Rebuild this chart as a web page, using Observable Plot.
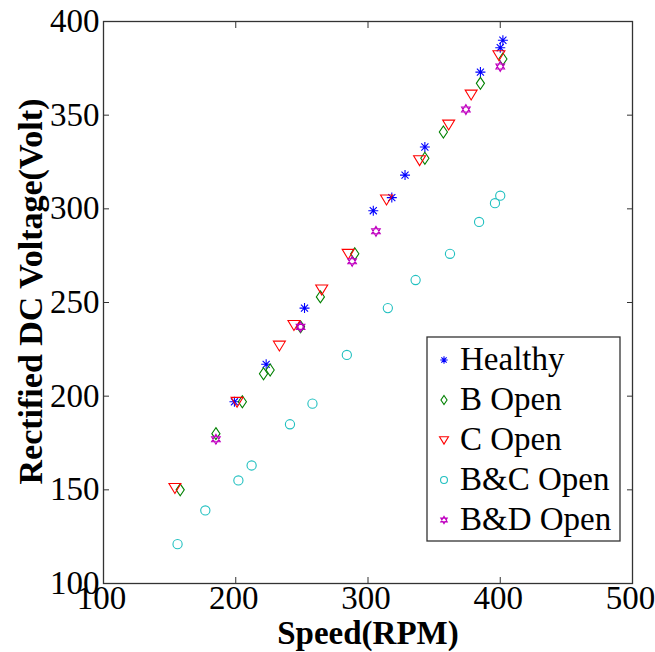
<!DOCTYPE html>
<html><head><meta charset="utf-8">
<script src="https://cdn.jsdelivr.net/npm/d3@7"></script>
<script src="https://cdn.jsdelivr.net/npm/@observablehq/plot@0.6"></script>
<style>body{margin:0;background:#fff}</style>
</head><body><div id="chart"></div>
<script>
const healthyX = [199, 223, 252, 304, 318, 328, 343, 385, 400, 402];
const healthyY = [197, 217, 247, 299, 306, 318, 333, 373, 386, 390];
const bOpenX = [158, 185, 205, 221, 226, 249, 264, 290, 343, 357, 385, 402];
const bOpenY = [150, 180, 197, 212, 214, 237, 253, 276, 327, 341, 367, 380];
const cOpenX = [154, 201, 233, 244, 265, 285, 314, 339, 361, 378, 399];
const cOpenY = [151, 197, 227, 238, 257, 276, 305, 326, 345, 361, 382];
const bcOpenX = [156, 177, 202, 212, 241, 258, 284, 315, 336, 362, 384, 396, 400];
const bcOpenY = [121, 139, 155, 163, 185, 196, 222, 247, 262, 276, 293, 303, 307];
const bdOpenX = [185, 249, 288, 306, 374, 400];
const bdOpenY = [177, 237, 272, 288, 353, 376];

const seriesNames = ["Healthy", "B Open", "C Open", "B&C Open", "B&D Open"];
const seriesColors = ["#0000ff", "#008000", "#ff0000", "#20c0c0", "#c000c0"];
const xTicks = [100, 200, 300, 400, 500];
const yTicks = [100, 150, 200, 250, 300, 350, 400];
const xLabel = "Speed(RPM)";
const yLabel = "Rectified DC Voltage(Volt)";

const FONT = "Liberation Serif";

const rad = (size) => Math.sqrt(size / Math.PI);
const symAsterisk = {draw(c, size) {
  const r = rad(size), d = r * Math.SQRT1_2;
  c.moveTo(-r, 0); c.lineTo(r, 0); c.moveTo(0, -r); c.lineTo(0, r);
  c.moveTo(-d, -d); c.lineTo(d, d); c.moveTo(-d, d); c.lineTo(d, -d);
}};
const symDiamond = {draw(c, size) {
  const r = rad(size);
  c.moveTo(0, -r * 1.25); c.lineTo(r * 0.85, 0); c.lineTo(0, r * 1.25); c.lineTo(-r * 0.85, 0); c.closePath();
}};
const symTriDown = {draw(c, size) {
  const r = rad(size);
  c.moveTo(-r * 1.15, -r * 0.85); c.lineTo(r * 1.15, -r * 0.85); c.lineTo(0, r * 1.05); c.closePath();
}};
const symCircle = {draw(c, size) {
  const r = rad(size);
  c.moveTo(r, 0); c.arc(0, 0, r, 0, 2 * Math.PI);
}};
const symHexagram = {draw(c, size) {
  const r = rad(size);
  for (const base of [-Math.PI / 2, Math.PI / 2]) {
    for (let k = 0; k < 3; k++) {
      const a = base + k * 2 * Math.PI / 3;
      const px = r * Math.cos(a), py = r * Math.sin(a);
      if (k === 0) c.moveTo(px, py); else c.lineTo(px, py);
    }
    c.closePath();
  }
}};
const seriesSymbols = [symAsterisk, symDiamond, symTriDown, symCircle, symHexagram];
const seriesR = [5, 4.8, 5.2, 4.6, 5];

const seriesX = [healthyX, bOpenX, cOpenX, bcOpenX, bdOpenX];
const seriesY = [healthyY, bOpenY, cOpenY, bcOpenY, bdOpenY];
const seriesData = seriesX.map((xs, s) => xs.map((x, i) => ({x, y: seriesY[s][i]})));

const plot = Plot.plot({
  width: 655,
  height: 652,
  marginLeft: 103,
  marginRight: 23,
  marginTop: 21,
  marginBottom: 69,
  style: {fontFamily: FONT, fontSize: "33px", color: "#000", background: "#fff"},
  x: {domain: [100, 500]},
  y: {domain: [100, 400]},
  marks: [
    Plot.frame({stroke: "#333", strokeWidth: 1.3}),
    Plot.axisX(xTicks, {anchor: "bottom", tickSize: 0, tickPadding: 2, dx: -2, fontSize: 33, fontFamily: FONT, label: null}),
    Plot.axisY(yTicks, {anchor: "left", tickSize: 0, tickPadding: 4, fontSize: 33, fontFamily: FONT, label: null}),
    Plot.axisX(xTicks, {anchor: "bottom", tickSize: -6, tickFormat: () => "", label: null, stroke: "#333"}),
    Plot.axisX(xTicks, {anchor: "top", tickSize: -6, tickFormat: () => "", label: null, stroke: "#333"}),
    Plot.axisY(yTicks, {anchor: "left", tickSize: -6, tickFormat: () => "", label: null, stroke: "#333"}),
    Plot.axisY(yTicks, {anchor: "right", tickSize: -6, tickFormat: () => "", label: null, stroke: "#333"}),
    ...seriesData.map((data, s) => Plot.dot(data, {
      x: "x", y: "y", symbol: seriesSymbols[s], r: seriesR[s],
      stroke: seriesColors[s], fill: "none", strokeWidth: 1.1
    })),
    Plot.text([xLabel], {frameAnchor: "bottom", dy: 50, textAnchor: "middle", lineAnchor: "middle", fontSize: 33, fontWeight: "bold", fontFamily: FONT}),
    Plot.text([yLabel], {frameAnchor: "left", dx: -72, dy: -11, rotate: -90, textAnchor: "middle", lineAnchor: "middle", fontSize: 34, fontWeight: "bold", fontFamily: FONT})
  ]
});

// Legend box inside the plot area
const svg = d3.select(plot);
const lg = svg.append("g").attr("font-family", FONT).attr("font-size", 33).attr("text-anchor", "start");
const boxX = 427, boxY = 337, boxW = 193, boxH = 204, rowH = 40;
lg.append("rect").attr("x", boxX).attr("y", boxY).attr("width", boxW).attr("height", boxH)
  .attr("fill", "#fff").attr("stroke", "#333").attr("stroke-width", 1.3);
seriesNames.forEach((name, s) => {
  const cy = boxY + 23 + s * rowH;
  lg.append("path")
    .attr("d", d3.symbol(seriesSymbols[s], Math.PI * Math.pow(seriesR[s] * 0.75, 2))())
    .attr("transform", `translate(${boxX + 17},${cy})`)
    .attr("fill", "none").attr("stroke", seriesColors[s]).attr("stroke-width", 1.1);
  lg.append("text").attr("x", boxX + 33).attr("y", cy + 10).attr("fill", "#000").text(name);
});

document.getElementById("chart").appendChild(plot);
</script>
</body></html>
